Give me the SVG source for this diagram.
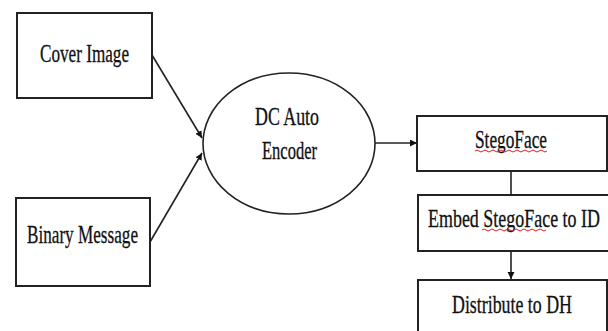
<svg xmlns="http://www.w3.org/2000/svg" width="608" height="331" viewBox="0 0 608 331">
  <style>
    .box { fill: #fff; stroke: #222; stroke-width: 2; }
    .oval { fill: #fff; stroke: #222; stroke-width: 1.6; }
    .lbl { font-family: "Liberation Serif", "Times New Roman", serif; font-size: 25px; fill: #111; stroke: #111; stroke-width: 0.3; }
    .edge { fill: none; stroke: #222; stroke-width: 1.6; }
    .squiggle { fill: none; stroke: #e02020; stroke-width: 1; }
  </style>
  <defs>
    <marker id="arrow" markerUnits="userSpaceOnUse" markerWidth="10" markerHeight="10" refX="7" refY="3.5" orient="auto">
      <path d="M0,0 L7,3.5 L0,7 Z" fill="#111"/>
    </marker>
  </defs>
  <rect width="608" height="331" fill="#fff"/>

  <g id="connectors">
    <line class="edge" x1="152" y1="55" x2="202" y2="138" marker-end="url(#arrow)"/>
    <line class="edge" x1="150" y1="242" x2="202" y2="153" marker-end="url(#arrow)"/>
    <line class="edge" x1="375" y1="143" x2="417" y2="143" marker-end="url(#arrow)"/>
    <line class="edge" x1="511" y1="171" x2="511" y2="195"/>
    <line class="edge" x1="511" y1="251" x2="511" y2="279" marker-end="url(#arrow)"/>
  </g>

  <g id="cover-image">
    <rect class="box" x="17" y="13" width="135" height="85"/>
    <text class="lbl" x="40" y="62" textLength="89" lengthAdjust="spacingAndGlyphs">Cover Image</text>
  </g>

  <g id="binary-message">
    <rect class="box" x="16" y="198" width="134" height="88"/>
    <text class="lbl" x="27" y="243" textLength="111" lengthAdjust="spacingAndGlyphs">Binary Message</text>
  </g>

  <g id="dc-auto-encoder">
    <ellipse class="oval" cx="289" cy="143.5" rx="86" ry="70.5"/>
    <text class="lbl" x="255" y="125" textLength="64" lengthAdjust="spacingAndGlyphs">DC Auto</text>
    <text class="lbl" x="262" y="159" textLength="55" lengthAdjust="spacingAndGlyphs">Encoder</text>
  </g>

  <g id="stegoface">
    <rect class="box" x="417" y="116" width="190" height="55"/>
    <text class="lbl" x="475" y="148" textLength="72" lengthAdjust="spacingAndGlyphs">StegoFace</text>
    <path class="squiggle" d="M475,151 q2,-2 4,0 t4,0 t4,0 t4,0 t4,0 t4,0 t4,0 t4,0 t4,0 t4,0 t4,0 t4,0 t4,0 t4,0 t4,0 t4,0 t4,0 t4,0"/>
  </g>

  <g id="embed-stegoface">
    <rect class="box" x="418" y="195" width="200" height="56"/>
    <text class="lbl" x="428" y="227" textLength="172" lengthAdjust="spacingAndGlyphs">Embed StegoFace to ID</text>
    <path class="squiggle" d="M482,230 q2,-2 4,0 t4,0 t4,0 t4,0 t4,0 t4,0 t4,0 t4,0 t4,0 t4,0 t4,0 t4,0 t4,0 t4,0 t4,0 t4,0"/>
  </g>

  <g id="distribute-dh">
    <rect class="box" x="418" y="280" width="189" height="60"/>
    <text class="lbl" x="452" y="313" textLength="120" lengthAdjust="spacingAndGlyphs">Distribute to DH</text>
  </g>
</svg>
